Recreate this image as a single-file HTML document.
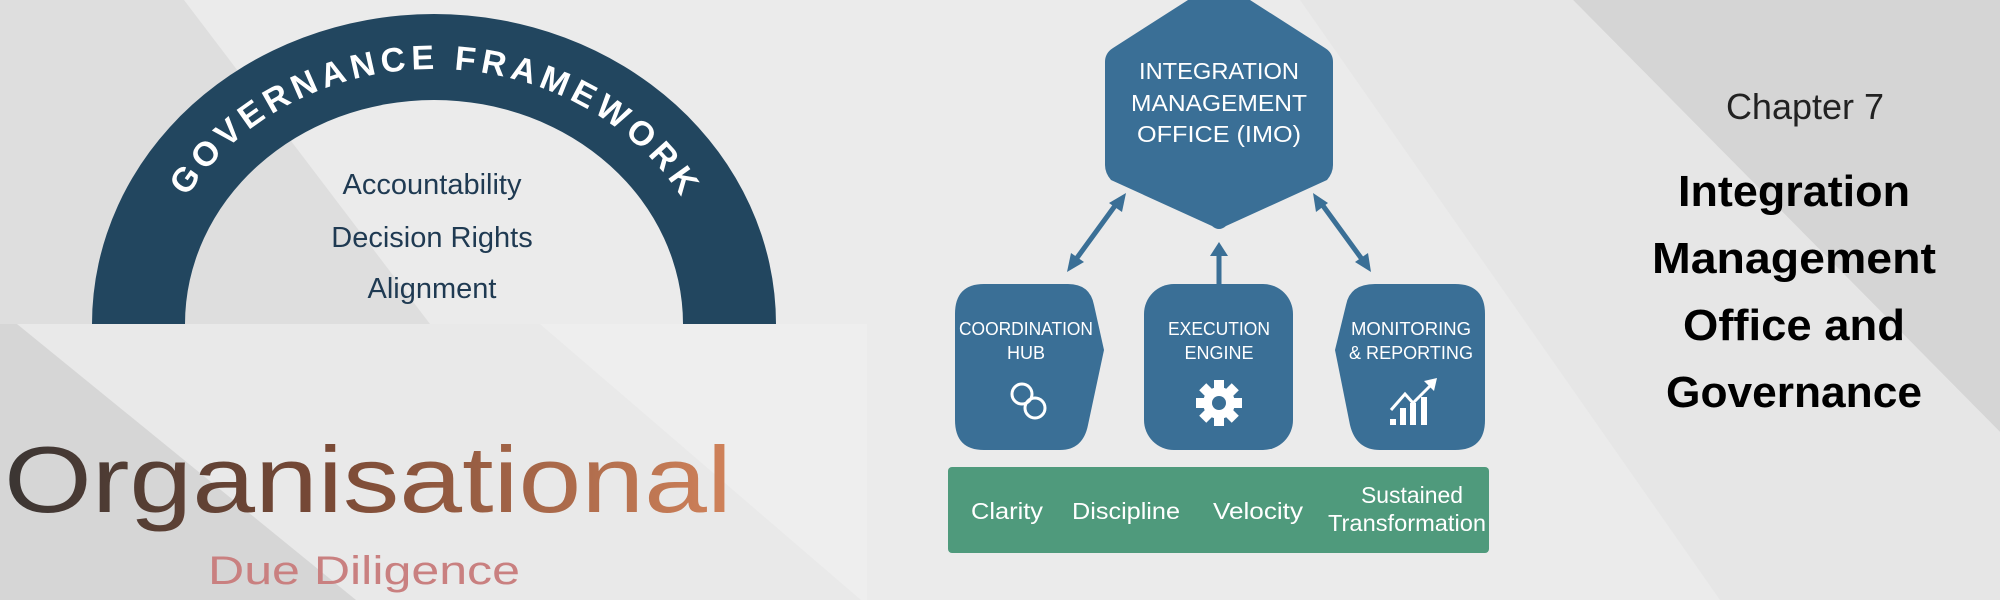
<!DOCTYPE html>
<html><head><meta charset="utf-8"><style>
html,body{margin:0;padding:0;width:2000px;height:600px;overflow:hidden;background:#ececec}
svg{display:block}
</style></head><body>
<svg width="2000" height="600" viewBox="0 0 2000 600" xmlns="http://www.w3.org/2000/svg" font-family="Liberation Sans, sans-serif">
<defs>
<linearGradient id="og" x1="0" x2="1" y1="0" y2="0">
<stop offset="0" stop-color="#3a3533"/><stop offset="0.45" stop-color="#7a4a36"/><stop offset="1" stop-color="#d0825a"/>
</linearGradient>
</defs>
<rect width="2000" height="600" fill="#ebebeb"/>
<polygon points="0,0 184,0 430,324 0,324" fill="#dedede"/>
<polygon points="1573,0 2000,0 2000,432" fill="#d5d5d5"/>
<polygon points="1300,0 1573,0 2000,432 2000,600 1720,600" fill="#e6e6e6"/>
<rect x="0" y="324" width="867" height="276" fill="#e9e9e9"/>
<polygon points="0,324 17,324 356,600 0,600" fill="#d6d6d6"/>
<polygon points="540,324 867,324 867,600 861,600" fill="#eeeeee"/>

<!-- arch -->
<path d="M92,324 A342,310 0 0 1 776,324 L683,324 A249,224 0 0 0 185,324 Z" fill="#22465f"/>
<path id="ap" d="M149,324 A285,255 0 0 1 719,324" fill="none"/>
<text font-size="34" font-weight="bold" fill="#fff"><textPath href="#ap" startOffset="50%" text-anchor="middle" textLength="580" lengthAdjust="spacing">GOVERNANCE FRAMEWORK</textPath></text>
<g fill="#1f3a52" font-size="29" text-anchor="middle">
<text x="432" y="194">Accountability</text>
<text x="432" y="247">Decision Rights</text>
<text x="432" y="298">Alignment</text>
</g>
<text x="4" y="512" font-size="94" fill="url(#og)" textLength="728" lengthAdjust="spacingAndGlyphs">Organisational</text>
<text x="208" y="584" font-size="40" fill="#c98080" textLength="312" lengthAdjust="spacingAndGlyphs">Due Diligence</text>

<!-- hexagon -->
<path d="M1188,0 L1250,0 L1325,48 Q1333,53 1333,62 L1333,165 Q1333,173 1327,180 L1226,226 Q1219,232 1212,226 L1111,180 Q1105,173 1105,165 L1105,62 Q1105,53 1113,48 Z" fill="#3a6f96"/>
<g fill="#fff" font-size="23" text-anchor="middle">
<text x="1219" y="79" textLength="160" lengthAdjust="spacingAndGlyphs">INTEGRATION</text>
<text x="1219" y="111" textLength="176" lengthAdjust="spacingAndGlyphs">MANAGEMENT</text>
<text x="1219" y="142" textLength="164" lengthAdjust="spacingAndGlyphs">OFFICE (IMO)</text>
</g>
<!-- arrows -->
<g stroke="#3a6f96" stroke-width="5" fill="#3a6f96">
<line x1="1074" y1="262" x2="1117" y2="203"/>
<line x1="1219" y1="284" x2="1219" y2="252"/>
<line x1="1321" y1="203" x2="1364" y2="262"/>
</g>
<g fill="#3a6f96">
<polygon points="1126,193 1122,212 1109,203"/>
<polygon points="1067,272 1071,253 1084,262"/>
<polygon points="1219,242 1228,256 1210,256"/>
<polygon points="1313,193 1328,203 1316,212"/>
<polygon points="1371,272 1368,253 1355,262"/>
</g>
<!-- boxes -->
<path d="M984,284 L1068,284 Q1090,284 1094,305 L1104,350 L1088,425 Q1083,450 1060,450 L984,450 Q955,450 955,420 L955,314 Q955,284 984,284 Z" fill="#3a6f96"/>
<rect x="1144" y="284" width="149" height="166" rx="30" fill="#3a6f96"/>
<path d="M1455,284 L1375,284 Q1350,284 1346,305 L1335,350 L1350,425 Q1356,450 1380,450 L1455,450 Q1485,450 1485,420 L1485,314 Q1485,284 1455,284 Z" fill="#3a6f96"/>
<g fill="#fff" font-size="18" text-anchor="middle">
<text x="1026" y="335" textLength="134" lengthAdjust="spacingAndGlyphs">COORDINATION</text>
<text x="1026" y="359">HUB</text>
<text x="1219" y="335" textLength="102" lengthAdjust="spacingAndGlyphs">EXECUTION</text>
<text x="1219" y="359">ENGINE</text>
<text x="1411" y="335" textLength="120" lengthAdjust="spacingAndGlyphs">MONITORING</text>
<text x="1411" y="359" textLength="124" lengthAdjust="spacingAndGlyphs">&amp; REPORTING</text>
</g>
<g fill="none" stroke="#fff" stroke-width="3">
<circle cx="1022" cy="394" r="10"/><circle cx="1035" cy="408" r="10"/>
</g>
<g fill="#fff">
<circle cx="1219" cy="403" r="16"/>
<g transform="translate(1219,403)">
<rect x="-5" y="-23" width="10" height="46"/><rect x="-23" y="-5" width="46" height="10"/>
<rect x="-5" y="-23" width="10" height="46" transform="rotate(45)"/><rect x="-5" y="-23" width="10" height="46" transform="rotate(-45)"/>
</g>
<circle cx="1219" cy="403" r="7" fill="#3a6f96"/>
<rect x="1390" y="419" width="6" height="6"/><rect x="1400" y="408" width="6" height="17"/><rect x="1410" y="403" width="6" height="22"/><rect x="1421" y="397" width="6" height="28"/>
</g>
<polyline points="1391,410 1405,394 1413,403 1433,383" fill="none" stroke="#fff" stroke-width="3"/>
<polygon points="1437,378 1424,381 1434,391" fill="#fff"/>
<!-- green bar -->
<rect x="948" y="467" width="541" height="86" rx="4" fill="#4f9a7c"/>
<g fill="#fff" font-size="23" text-anchor="middle">
<text x="1007" y="519" textLength="72" lengthAdjust="spacingAndGlyphs">Clarity</text>
<text x="1126" y="519" textLength="108" lengthAdjust="spacingAndGlyphs">Discipline</text>
<text x="1258" y="519" textLength="90" lengthAdjust="spacingAndGlyphs">Velocity</text>
<text x="1412" y="503" textLength="102" lengthAdjust="spacingAndGlyphs">Sustained</text>
<text x="1407" y="531" textLength="158" lengthAdjust="spacingAndGlyphs">Transformation</text>
</g>
<!-- right title -->
<text x="1805" y="119" font-size="36" fill="#222" text-anchor="middle">Chapter 7</text>
<g font-size="44" font-weight="bold" fill="#000" text-anchor="middle">
<text x="1794" y="206" textLength="232" lengthAdjust="spacingAndGlyphs">Integration</text>
<text x="1794" y="273" textLength="284" lengthAdjust="spacingAndGlyphs">Management</text>
<text x="1794" y="340" textLength="222" lengthAdjust="spacingAndGlyphs">Office and</text>
<text x="1794" y="407" textLength="256" lengthAdjust="spacingAndGlyphs">Governance</text>
</g>
</svg>
</body></html>
